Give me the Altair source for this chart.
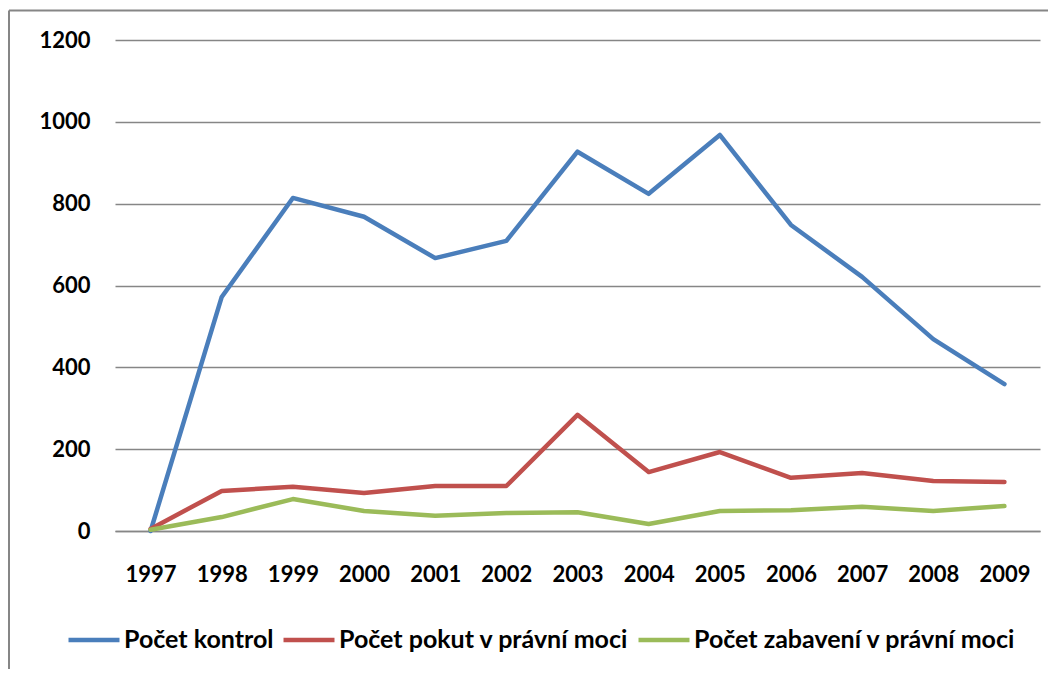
import altair as alt
import pandas as pd

years = ["1997", "1998", "1999", "2000", "2001", "2002", "2003", "2004", "2005", "2006", "2007", "2008", "2009"]
kontrol = [0, 572, 814, 768, 667, 709, 927, 824, 968, 748, 621, 469, 359]
pokuty = [5, 98, 108, 93, 110, 110, 284, 144, 193, 130, 142, 122, 120]
zabaveni = [3, 34, 78, 49, 37, 44, 46, 17, 49, 51, 59, 49, 61]

series_names = ["Počet kontrol", "Počet pokut v právní moci", "Počet zabavení v právní moci"]
colors = ["#4A7EBB", "#C0504D", "#9BBB59"]

rows = []
for name, vals in zip(series_names, [kontrol, pokuty, zabaveni]):
    for i, (y, v) in enumerate(zip(years, vals)):
        rows.append({"rok": y, "hodnota": v, "serie": name, "order": i})
df = pd.DataFrame(rows)

FONT = "Lato"

lines = alt.Chart(df).mark_line(strokeWidth=4.5, strokeCap="round", strokeJoin="round").encode(
    x=alt.X("rok:O", sort=years, title=None,
            scale=alt.Scale(type="point", padding=0.5),
            axis=alt.Axis(labelAngle=0, ticks=False, domain=True, domainColor="#868686",
                          domainWidth=1.5, labelPadding=33, grid=False,
                          labelFont=FONT, labelFontSize=22, labelFontWeight="bold",
                          labelColor="#000000")),
    y=alt.Y("hodnota:Q", title=None,
            scale=alt.Scale(domain=[0, 1200], nice=False),
            axis=alt.Axis(values=[0, 200, 400, 600, 800, 1000, 1200], ticks=False, domain=False,
                          labelPadding=25, gridColor="#868686", gridWidth=1.5, format="d",
                          labelFont=FONT, labelFontSize=22, labelFontWeight="bold",
                          labelColor="#000000")),
    color=alt.Color("serie:N", sort=series_names,
                    scale=alt.Scale(domain=series_names, range=colors),
                    legend=alt.Legend(title=None, orient="none", direction="horizontal",
                                      legendX=-49, legendY=572, symbolType="stroke",
                                      symbolSize=2600, symbolStrokeWidth=4.5,
                                      labelFont=FONT, labelFontSize=25, labelFontWeight="bold",
                                      labelColor="#000000", labelOffset=2, columnPadding=0,
                                      labelLimit=400)),
    order="order:Q",
)

border = alt.Chart(pd.DataFrame({"a": [0]})).mark_rule(color="#868686", strokeWidth=2).encode(
    x=alt.value(-106), y=alt.value(-29.5), y2=alt.value(700)
)
border_top = alt.Chart(pd.DataFrame({"a": [0]})).mark_rule(color="#868686", strokeWidth=2).encode(
    x=alt.value(-106), x2=alt.value(1000), y=alt.value(-29.5)
)

chart = alt.layer(border, border_top, lines).properties(
    width=925, height=491,
    background="#ffffff",
    autosize=alt.AutoSizeParams(type="none"),
    padding={"left": 107, "top": 32, "right": 8, "bottom": 138},
).configure_view(stroke=None)

chart.save("out.html", embed_options={"renderer": "svg", "actions": False})
